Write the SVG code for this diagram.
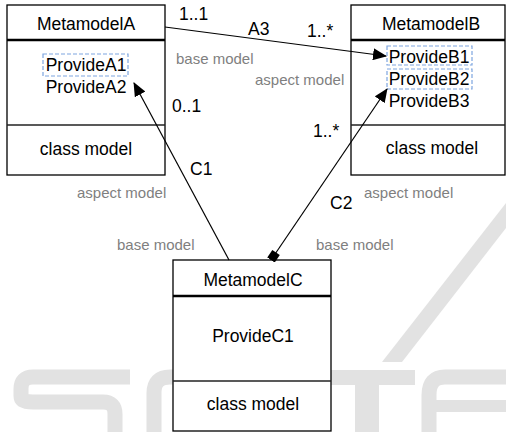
<svg xmlns="http://www.w3.org/2000/svg" width="506" height="432" viewBox="0 0 506 432">
<style>
.box{fill:#fff;stroke:#000;stroke-width:1.3}
.hdr{stroke:#000;stroke-width:2.4}
.sep{stroke:#222;stroke-width:1.3}
.t{font-family:"Liberation Sans",Arial,sans-serif;font-size:17.5px;fill:#000}
.c{text-anchor:middle}
.g{font-family:"Liberation Sans",Arial,sans-serif;font-size:15px;fill:#7f7f7f}
.dash{fill:none;stroke:#7ea6e0;stroke-width:1.2;stroke-dasharray:4 2}
.conn{fill:none;stroke:#000;stroke-width:1.2}
.wm{fill:#e2e2e2}
.wms{fill:none;stroke:#e2e2e2}
</style>
<defs>
<marker id="arr" markerUnits="userSpaceOnUse" viewBox="0 0 14 12" refX="13" refY="6" markerWidth="14" markerHeight="12" orient="auto"><path d="M0,0 L14,6 L0,12 z" fill="#000"/></marker>
<marker id="sq" markerUnits="userSpaceOnUse" viewBox="0 -5 10 10" refX="0" refY="0" markerWidth="10" markerHeight="10" orient="auto"><path d="M0,-4.5 L9,-4.5 L9,4.5 L0,4.5 z" fill="#000"/></marker>
</defs>
<g id="watermark">
<path class="wms" stroke-width="15" d="M130,377 H33 Q21,377 21,389 V396 Q21,402 33,402 H103 Q115,402 115,414 V432"/>
<path class="wms" stroke-width="15" d="M200,377 H170 Q154,377 154,393 V432"/>
<rect class="wm" x="331" y="370" width="84" height="15"/>
<rect class="wm" x="355" y="385" width="24" height="47"/>
<polygon class="wm" points="382,362 402,362 506,228 506,203"/>
<path class="wms" stroke-width="15" d="M506,377 H445 Q429,377 429,395 V432"/>
<rect class="wm" x="436" y="400" width="70" height="12"/>
</g>
<g id="MetamodelA">
<rect class="box" x="7" y="5" width="158" height="170"/>
<line class="hdr" x1="7" y1="40" x2="165" y2="40"/>
<line class="sep" x1="7" y1="125" x2="165" y2="125"/>
<text class="t c" x="86" y="30">MetamodelA</text>
<rect class="dash" x="43" y="54" width="85" height="22"/>
<text class="t c" x="86" y="71">ProvideA1</text>
<text class="t c" x="86" y="93">ProvideA2</text>
<text class="t c" x="86" y="155">class model</text>
</g>
<g id="MetamodelB">
<rect class="box" x="351" y="5" width="154" height="170"/>
<line class="hdr" x1="351" y1="40" x2="505" y2="40"/>
<line class="sep" x1="351" y1="125" x2="505" y2="125"/>
<text class="t c" x="431" y="30">MetamodelB</text>
<rect class="dash" x="387" y="46" width="85" height="19"/>
<rect class="dash" x="387" y="69" width="85" height="20"/>
<text class="t c" x="429" y="63">ProvideB1</text>
<text class="t c" x="429" y="85">ProvideB2</text>
<text class="t c" x="429" y="107">ProvideB3</text>
<text class="t c" x="432" y="154">class model</text>
</g>
<g id="MetamodelC">
<rect class="box" x="173" y="260" width="158" height="171"/>
<line class="hdr" x1="173" y1="296" x2="331" y2="296"/>
<line class="sep" x1="173" y1="381" x2="331" y2="381"/>
<text class="t c" x="253" y="286">MetamodelC</text>
<text class="t c" x="253" y="342">ProvideC1</text>
<text class="t c" x="253" y="410">class model</text>
</g>
<g id="connectors">
<line class="conn" x1="165" y1="27" x2="386" y2="56" marker-end="url(#arr)"/>
<line class="conn" x1="229" y1="260" x2="134" y2="83" marker-end="url(#arr)"/>
<line class="conn" x1="271" y1="260" x2="387" y2="89" marker-start="url(#sq)" marker-end="url(#arr)"/>
</g>
<g id="labels">
<text class="t" x="179" y="20">1..1</text>
<text class="t" x="248" y="35">A3</text>
<text class="t" x="307" y="37">1..*</text>
<text class="g" x="176" y="64">base model</text>
<text class="g" x="255" y="85">aspect model</text>
<text class="t" x="172" y="112">0..1</text>
<text class="t" x="313" y="137">1..*</text>
<text class="t" x="190" y="175">C1</text>
<text class="g" x="77" y="198">aspect model</text>
<text class="t" x="330" y="209">C2</text>
<text class="g" x="364" y="198">aspect model</text>
<text class="g" x="117" y="250">base model</text>
<text class="g" x="316" y="250">base model</text>
</g>
</svg>
